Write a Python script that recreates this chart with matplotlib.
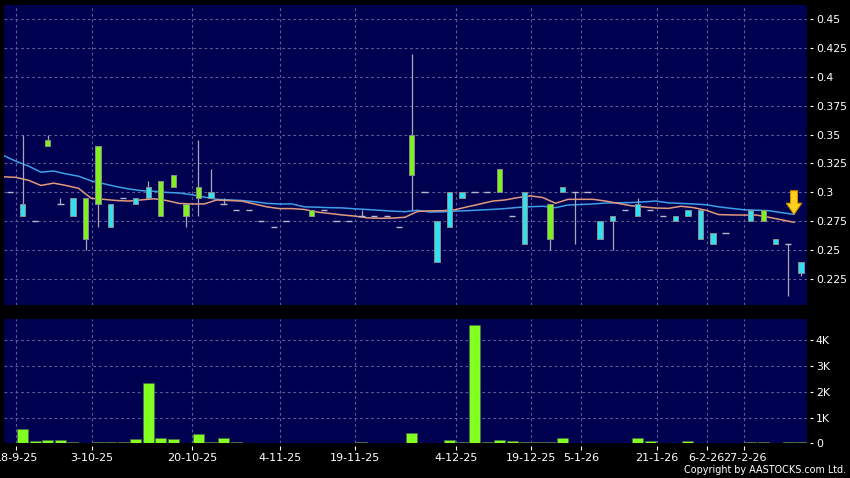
import numpy as np
import matplotlib
matplotlib.use('Agg')
import matplotlib.pyplot as plt
from matplotlib.ticker import FuncFormatter

nan = np.nan
# ---- data ----
opens = [0.30, 0.29, 0.275, 0.34, 0.29, 0.295, 0.26, 0.29, 0.29, 0.295,
         0.295, 0.305, 0.28, 0.305, 0.28, 0.295, 0.30, 0.29, 0.285, 0.285,
         0.275, 0.27, 0.275, nan, 0.28, 0.285, 0.275, 0.275, 0.28, 0.28,
         0.28, 0.27, 0.315, 0.30, 0.275, 0.30, 0.30, 0.30, 0.30, 0.30,
         0.28, 0.30, nan, 0.26, 0.305, 0.30, 0.30, 0.275, 0.28, 0.285,
         0.29, 0.285, 0.28, 0.28, 0.285, 0.285, 0.265, 0.265, nan, 0.285,
         0.275, 0.26, 0.255, 0.24]
highs = [0.30, 0.35, 0.275, 0.35, 0.295, 0.295, 0.295, 0.34, 0.29, 0.295,
         0.295, 0.31, 0.31, 0.315, 0.29, 0.345, 0.32, 0.295, 0.285, 0.285,
         0.275, 0.27, 0.275, nan, 0.285, 0.285, 0.275, 0.275, 0.285, 0.28,
         0.28, 0.27, 0.42, 0.30, 0.275, 0.30, 0.30, 0.30, 0.30, 0.32,
         0.28, 0.30, nan, 0.29, 0.305, 0.30, 0.30, 0.275, 0.28, 0.285,
         0.295, 0.285, 0.28, 0.28, 0.285, 0.285, 0.265, 0.265, nan, 0.285,
         0.285, 0.26, 0.255, 0.24]
lows = [0.30, 0.28, 0.275, 0.34, 0.29, 0.28, 0.25, 0.27, 0.27, 0.295,
        0.29, 0.295, 0.28, 0.305, 0.27, 0.28, 0.295, 0.29, 0.285, 0.285,
        0.275, 0.27, 0.275, nan, 0.28, 0.285, 0.275, 0.275, 0.28, 0.28,
        0.28, 0.27, 0.285, 0.30, 0.24, 0.27, 0.295, 0.30, 0.30, 0.30,
        0.28, 0.255, nan, 0.25, 0.30, 0.255, 0.30, 0.26, 0.25, 0.285,
        0.28, 0.285, 0.28, 0.275, 0.28, 0.26, 0.255, 0.265, nan, 0.275,
        0.275, 0.255, 0.21, 0.2275]
closes = [0.30, 0.28, 0.275, 0.345, 0.29, 0.28, 0.295, 0.34, 0.27, 0.295,
          0.29, 0.295, 0.31, 0.315, 0.29, 0.305, 0.295, 0.29, 0.285, 0.285,
          0.275, 0.27, 0.275, nan, 0.285, 0.285, 0.275, 0.275, 0.28, 0.28,
          0.28, 0.27, 0.35, 0.30, 0.24, 0.27, 0.295, 0.30, 0.30, 0.32,
          0.28, 0.255, nan, 0.29, 0.30, 0.30, 0.30, 0.26, 0.275, 0.285,
          0.28, 0.285, 0.28, 0.275, 0.28, 0.26, 0.255, 0.265, nan, 0.275,
          0.285, 0.255, 0.255, 0.23]
volumes = [0, 560, 90, 130, 130, 50, 0, 50, 70, 50,
           150, 2350, 220, 180, 0, 360, 50, 220, 40, 10,
           10, 10, 5, 0, 30, 5, 30, 5, 40, 5,
           30, 5, 390, 0, 0, 120, 70, 4600, 50, 130,
           100, 50, 40, 70, 200, 30, 5, 5, 5, 5,
           220, 100, 5, 30, 90, 5, 5, 30, 0, 40,
           70, 5, 70, 50]
# moving averages (one value per session, starting one session before the first candle)
ma_blue = [0.332, 0.327, 0.3228, 0.3175, 0.3185, 0.316, 0.314, 0.310, 0.3075, 0.305,
           0.303, 0.3015, 0.301, 0.300, 0.2995, 0.298, 0.296, 0.294, 0.2935, 0.293,
           0.292, 0.2905, 0.290, 0.290, 0.2875, 0.2872, 0.2868, 0.2866, 0.2858, 0.2852,
           0.2845, 0.2838, 0.2833, 0.2845, 0.283, 0.2832, 0.2838, 0.2842, 0.2848, 0.2853,
           0.286, 0.287, 0.2876, 0.288, 0.2868, 0.2891, 0.2895, 0.290, 0.2908, 0.291,
           0.2912, 0.2918, 0.2925, 0.291, 0.2905, 0.290, 0.2893, 0.2875, 0.2862, 0.285,
           0.2846, 0.2842, 0.2825, 0.281]
ma_orange = [0.3135, 0.313, 0.3105, 0.306, 0.308, 0.306, 0.3035, 0.2949, 0.294, 0.293,
             0.2925, 0.2935, 0.2945, 0.293, 0.2905, 0.290, 0.290, 0.2934, 0.293, 0.2925,
             0.290, 0.2875, 0.286, 0.286, 0.2852, 0.283, 0.2818, 0.2805, 0.2795, 0.278,
             0.2776, 0.2778, 0.2785, 0.2835, 0.284, 0.2842, 0.285, 0.2876, 0.290, 0.2925,
             0.2935, 0.2955, 0.297, 0.2955, 0.2906, 0.294, 0.294, 0.294, 0.2925, 0.2905,
             0.2885, 0.2875, 0.2865, 0.2862, 0.288, 0.2868, 0.2845, 0.2808, 0.2805, 0.2804,
             0.2804, 0.2785, 0.2763, 0.2741]
date_labels = ['18-9-25', '3-10-25', '20-10-25', '4-11-25', '19-11-25', '4-12-25',
               '19-12-25', '5-1-26', '21-1-26', '6-2-26', '27-2-26']
date_slots = [0.5, 6.5, 14.5, 21.5, 27.5, 35.5, 41.5, 45.5, 51.5, 55.5, 58.5]
price_ticks = [0.225, 0.25, 0.275, 0.30, 0.325, 0.35, 0.375, 0.40, 0.425, 0.45]
vol_ticks = [0, 1000, 2000, 3000, 4000]

n = len(closes)
assert len(opens) == len(highs) == len(lows) == len(volumes) == n
assert len(ma_blue) == len(ma_orange) == n

o = np.array(opens); h = np.array(highs); l = np.array(lows); c = np.array(closes)
x = np.arange(n)
ma_x = np.arange(-1, n - 1) + 0.45

BG = '#000050'
GRID = '#5c5c96'
UP = '#80F020'
DOWN = '#30E0F0'
WICK = '#a8a8b4'

fig = plt.figure(figsize=(8.5, 4.78), dpi=100, facecolor='black')
ax1 = fig.add_axes([4 / 850, 1 - 305 / 478, 803.3 / 850, 300 / 478])
ax2 = fig.add_axes([4 / 850, 1 - 443.3 / 478, 803.3 / 850, (443.3 - 318.5) / 478])

for ax in (ax1, ax2):
    ax.set_facecolor(BG)
    for s in ax.spines.values():
        s.set_visible(False)
    ax.spines['right'].set_position(('outward', 2.2))
    ax.spines['bottom'].set_position(('outward', 2.2))
    ax.set_xlim(-0.494, 63.51)
    ax.set_xticks(date_slots)
    ax.grid(True, color=GRID, linestyle=(0, (2.5, 2.5)), linewidth=0.8)
    ax.set_axisbelow(True)
    ax.yaxis.tick_right()
    ax.tick_params(axis='y', direction='out', length=2.4, width=0.8,
                   colors='white', labelsize=7.8, pad=1.6)

# ---- price panel ----
ax1.plot(ma_x, ma_blue, color='#3e9ee8', lw=1.1, zorder=2)
ax1.plot(ma_x, ma_orange, color='#e39a7c', lw=1.1, zorder=2)

valid = ~np.isnan(c)
ax1.vlines(x[valid], l[valid], h[valid], color=WICK, lw=0.9, zorder=3)
body = valid & (c != o)
up = body & (c > o)
dn = body & (c < o)
ax1.bar(x[up], (c - o)[up], bottom=o[up], width=0.42, color=UP,
        edgecolor='#8c8c8c', linewidth=0.7, zorder=4)
ax1.bar(x[dn], (o - c)[dn], bottom=c[dn], width=0.42, color=DOWN,
        edgecolor='#8c8c8c', linewidth=0.7, zorder=4)
doji = valid & (c == o)
ax1.hlines(c[doji], x[doji] - 0.25, x[doji] + 0.25, color='#b8b8c8', lw=1.0, zorder=4)

ax1.set_ylim(0.2026, 0.4621)
ax1.set_yticks(price_ticks)
ax1.yaxis.set_major_formatter(FuncFormatter(lambda v, p: f"{round(v, 3):g}"))
ax1.tick_params(axis='x', length=0, labelbottom=False)

ax1.annotate('', xy=(ma_x[-1], ma_blue[-1]), xytext=(0, 17), textcoords='offset points',
             arrowprops=dict(arrowstyle='simple,head_length=0.8,head_width=1.1,tail_width=0.5',
                             fc='#FFD21F', ec='#D89000', lw=0.8, shrinkA=0, shrinkB=0),
             zorder=6)

# ---- volume panel ----
ax2.bar(x, volumes, width=0.88, color='#80FF20', edgecolor='#4c6c4c', linewidth=0.5, zorder=3)
ax2.set_ylim(0, 4856)
ax2.set_yticks(vol_ticks)
ax2.yaxis.set_major_formatter(FuncFormatter(lambda v, p: '0' if v == 0 else f"{v / 1000:g}K"))
ax2.set_xticklabels(date_labels)
ax2.tick_params(axis='x', direction='out', length=3, width=0.8, colors='white',
                labelsize=8, pad=1.5)

fig.text(846 / 850, 1 - 470 / 478, 'Copyright by AASTOCKS.com Ltd.', ha='right', va='center',
         color='white', fontsize=6.9)

fig.savefig('out.png', dpi=100, facecolor='black')
